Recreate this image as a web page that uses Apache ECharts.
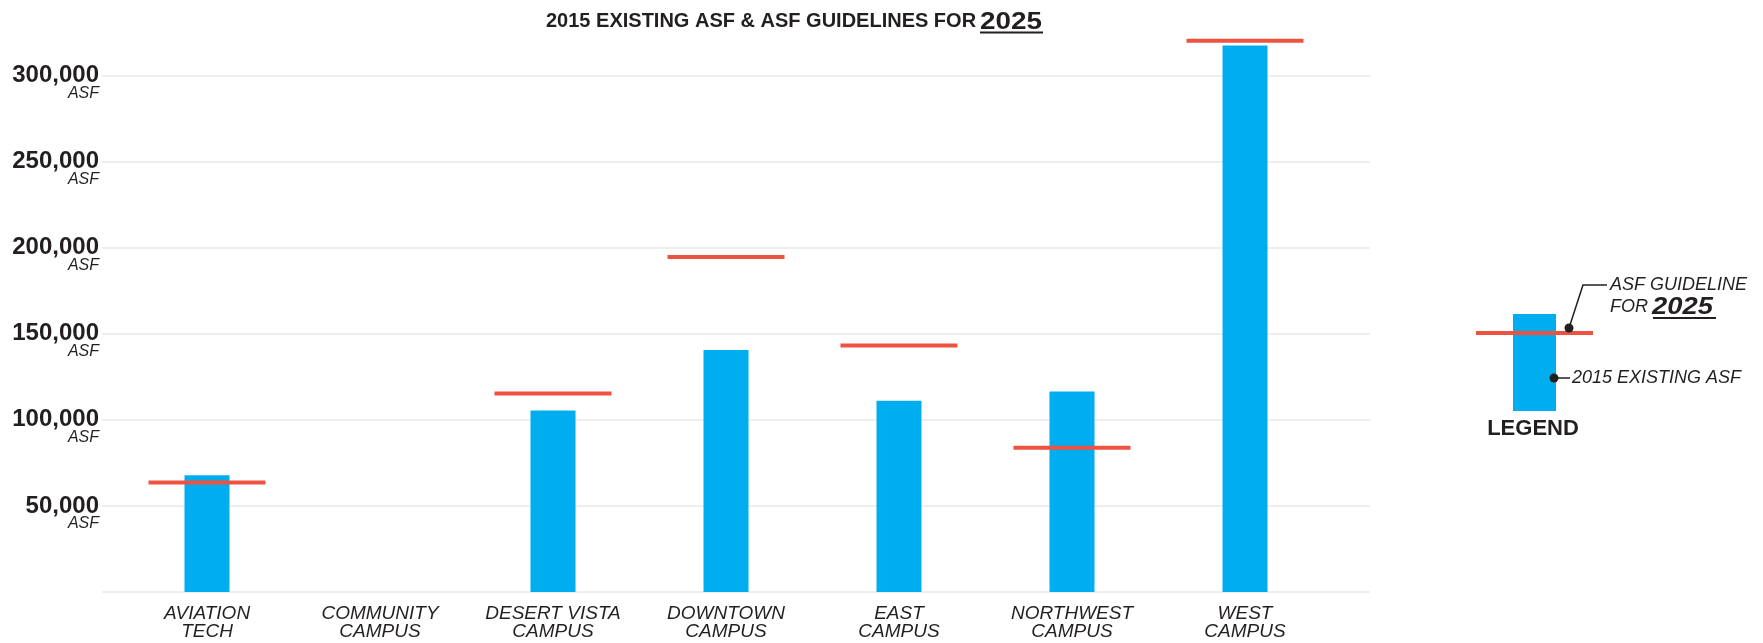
<!DOCTYPE html>
<html>
<head>
<meta charset="utf-8">
<script src="https://cdn.jsdelivr.net/npm/echarts@6/dist/echarts.min.js"></script>
<style>
html,body{margin:0;padding:0;background:#fff;}
#chart{width:1763px;height:643px;}
</style>
</head>
<body>
<div id="chart"></div>
<script>
const categories = ['AVIATION\nTECH','COMMUNITY\nCAMPUS','DESERT VISTA\nCAMPUS','DOWNTOWN\nCAMPUS','EAST\nCAMPUS','NORTHWEST\nCAMPUS','WEST\nCAMPUS'];
const existing2015 = [67800, null, 105400, 140600, 111000, 116400, 317400];
const guideline2025 = [63600, null, 115300, 194600, 143200, 83800, 320200];
const yTickValues = [50000, 100000, 150000, 200000, 250000, 300000];
const yUnit = 'ASF';
const titleMain = '2015 EXISTING ASF & ASF GUIDELINES FOR';
const titleYear = '2025';

const FONT = '"Liberation Sans", Arial, sans-serif';
const INK = '#231f20';
const BLUE = '#00AEEF';
const RED = '#EE5240';
const GRID = '#e9e9e9';

const chart = echarts.init(document.getElementById('chart'), null, {renderer:'canvas'});

const yMax = 343800;
const option = {
  animation: false,
  backgroundColor: '#ffffff',
  grid: [
    {left: 102, right: 393, top: 0, bottom: 51, containLabel: false},
    {left: 120.5, right: 431.5, top: 0, bottom: 51, containLabel: false}
  ],
  xAxis: [
    {gridIndex: 0, type: 'value', show: false, min: 0, max: 1},
    {gridIndex: 1, type: 'category', data: categories,
     axisLine: {show: false}, axisTick: {show: false},
     axisLabel: {margin: 13, fontFamily: FONT, fontSize: 19, fontStyle: 'italic', color: INK, lineHeight: 18, interval: 0}}
  ],
  yAxis: [
    {gridIndex: 0, type: 'value', min: 0, max: yMax, interval: 50000,
     axisLine: {show: false}, axisTick: {show: false},
     splitLine: {show: true, lineStyle: {color: [GRID, GRID, GRID, GRID, GRID, GRID, GRID, 'rgba(0,0,0,0)'], width: 1.6}},
     axisLabel: {
       margin: 3, align: 'right', padding: [14, 0, 0, 0],
       formatter: function (v) {
         if (yTickValues.indexOf(v) < 0) return '';
         return '{a|' + v.toLocaleString('en-US') + '}\n{b|' + yUnit + '}';
       },
       rich: {
         a: {fontFamily: FONT, fontSize: 24, fontWeight: 'bold', color: INK, lineHeight: 22, align: 'right'},
         b: {fontFamily: FONT, fontSize: 16, fontStyle: 'italic', color: INK, lineHeight: 14, align: 'right'}
       }
     }},
    {gridIndex: 1, type: 'value', min: 0, max: yMax, interval: 50000, show: false, splitLine: {show: false}}
  ],
  series: [
    {type: 'bar', name: '2015 Existing ASF', xAxisIndex: 1, yAxisIndex: 1,
     data: existing2015, barWidth: 45, itemStyle: {color: BLUE}, z: 2},
    {type: 'scatter', name: 'ASF Guideline for 2025', xAxisIndex: 1, yAxisIndex: 1,
     data: guideline2025, symbol: 'rect', symbolSize: [117, 4], itemStyle: {color: RED, opacity: 1}, z: 3}
  ],
  graphic: [
    // title
    {type: 'text', x: 546, y: 21, style: {text: titleMain, font: 'bold 20px ' + FONT, fill: INK, verticalAlign: 'middle'}},
    {type: 'text', x: 980, y: 22, scaleX: 1.16, style: {text: titleYear, font: 'bold 24px ' + FONT, fill: INK, align: 'left', verticalAlign: 'middle'}},
    {type: 'line', shape: {x1: 980, y1: 32.5, x2: 1043, y2: 32.5}, style: {stroke: INK, lineWidth: 2}},
    // legend
    {type: 'rect', shape: {x: 1513, y: 314, width: 43, height: 97}, style: {fill: BLUE}},
    {type: 'rect', shape: {x: 1476, y: 331, width: 117, height: 4}, style: {fill: RED}, z: 10},
    {type: 'polyline', shape: {points: [[1569, 328], [1583, 285], [1607, 285]]}, style: {stroke: INK, lineWidth: 1.5, fill: null}, z: 11},
    {type: 'circle', shape: {cx: 1569, cy: 328, r: 4.5}, style: {fill: INK}, z: 12},
    {type: 'text', x: 1610, y: 285, style: {text: 'ASF GUIDELINE', font: 'italic 18px ' + FONT, fill: INK, verticalAlign: 'middle'}},
    {type: 'text', x: 1610, y: 307, style: {text: 'FOR', font: 'italic 18px ' + FONT, fill: INK, verticalAlign: 'middle'}},
    {type: 'text', x: 1652, y: 307, scaleX: 1.14, style: {text: '2025', font: 'italic bold 24px ' + FONT, fill: INK, align: 'left', verticalAlign: 'middle'}},
    {type: 'line', shape: {x1: 1653, y1: 318, x2: 1716, y2: 318}, style: {stroke: INK, lineWidth: 2}},
    {type: 'line', shape: {x1: 1554, y1: 378, x2: 1570, y2: 378}, style: {stroke: INK, lineWidth: 1.5}, z: 11},
    {type: 'circle', shape: {cx: 1554, cy: 378, r: 4.5}, style: {fill: INK}, z: 12},
    {type: 'text', x: 1572, y: 378, style: {text: '2015 EXISTING ASF', font: 'italic 18px ' + FONT, fill: INK, verticalAlign: 'middle'}},
    {type: 'text', x: 1533, y: 429, style: {text: 'LEGEND', font: 'bold 22px ' + FONT, fill: INK, align: 'center', verticalAlign: 'middle'}}
  ]
};
chart.setOption(option);
</script>
</body>
</html>
